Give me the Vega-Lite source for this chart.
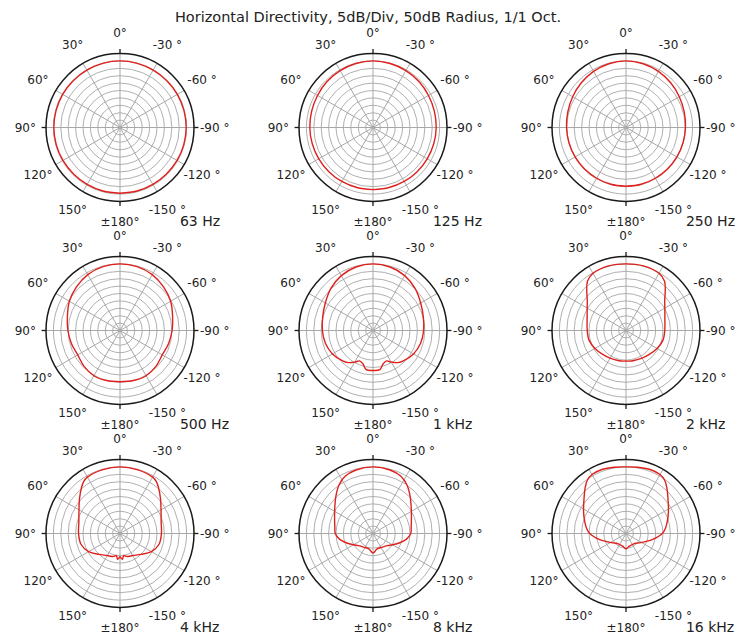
{
"$schema": "https://vega.github.io/schema/vega-lite/v6.json",
"background": "white",
"padding": {"left": 0, "right": 0, "top": 9, "bottom": 0},
"bounds": "flush",
"title": {"text": "Horizontal Directivity, 5dB/Div, 50dB Radius, 1/1 Oct.", "font": "DejaVu Sans", "fontSize": 14.5, "fontWeight": "normal", "color": "#222", "anchor": "middle", "offset": 1},
"config": {"view": {"stroke": null}, "axis": {"disable": true}},
"datasets": {
"rings": [{"L":5},{"L":10},{"L":15},{"L":20},{"L":25},{"L":30},{"L":35},{"L":40},{"L":45}],
"outer": [{"L":50}],
"spokes": [{"a":0},{"a":30},{"a":60},{"a":90},{"a":120},{"a":150}],
"ticks": [{"a":0},{"a":90},{"a":180},{"a":-90}],
"labels": [{"a":0,"t":"0°"},{"a":30,"t":"30°"},{"a":60,"t":"60°"},{"a":90,"t":"90°"},{"a":120,"t":"120°"},{"a":150,"t":"150°"},{"a":180,"t":"±180°"},{"a":-30,"t":"-30 °"},{"a":-60,"t":"-60 °"},{"a":-90,"t":"-90 °"},{"a":-120,"t":"-120 °"},{"a":-150,"t":"-150 °"}],
"curves": [
{"f":"63 Hz","a":-180,"L":44.4},{"f":"63 Hz","a":-165,"L":44.4},{"f":"63 Hz","a":-150,"L":44.4},{"f":"63 Hz","a":-135,"L":44.4},{"f":"63 Hz","a":-120,"L":44.5},{"f":"63 Hz","a":-105,"L":44.6},{"f":"63 Hz","a":-90,"L":44.7},{"f":"63 Hz","a":-75,"L":44.7},{"f":"63 Hz","a":-60,"L":44.7},{"f":"63 Hz","a":-45,"L":44.7},{"f":"63 Hz","a":-30,"L":44.8},{"f":"63 Hz","a":-15,"L":44.9},{"f":"63 Hz","a":0,"L":45},{"f":"63 Hz","a":15,"L":44.9},{"f":"63 Hz","a":30,"L":44.8},{"f":"63 Hz","a":45,"L":44.7},{"f":"63 Hz","a":60,"L":44.7},{"f":"63 Hz","a":75,"L":44.7},{"f":"63 Hz","a":90,"L":44.7},{"f":"63 Hz","a":105,"L":44.6},{"f":"63 Hz","a":120,"L":44.5},{"f":"63 Hz","a":135,"L":44.4},{"f":"63 Hz","a":150,"L":44.4},{"f":"63 Hz","a":165,"L":44.4},{"f":"63 Hz","a":180,"L":44.4},
{"f":"125 Hz","a":-180,"L":42},{"f":"125 Hz","a":-165,"L":42},{"f":"125 Hz","a":-150,"L":42.1},{"f":"125 Hz","a":-135,"L":42.2},{"f":"125 Hz","a":-120,"L":42.3},{"f":"125 Hz","a":-105,"L":42.5},{"f":"125 Hz","a":-90,"L":42.7},{"f":"125 Hz","a":-75,"L":42.9},{"f":"125 Hz","a":-60,"L":43.3},{"f":"125 Hz","a":-45,"L":43.9},{"f":"125 Hz","a":-30,"L":44.4},{"f":"125 Hz","a":-15,"L":44.8},{"f":"125 Hz","a":0,"L":45},{"f":"125 Hz","a":15,"L":44.8},{"f":"125 Hz","a":30,"L":44.4},{"f":"125 Hz","a":45,"L":43.9},{"f":"125 Hz","a":60,"L":43.3},{"f":"125 Hz","a":75,"L":42.9},{"f":"125 Hz","a":90,"L":42.7},{"f":"125 Hz","a":105,"L":42.5},{"f":"125 Hz","a":120,"L":42.3},{"f":"125 Hz","a":135,"L":42.2},{"f":"125 Hz","a":150,"L":42.1},{"f":"125 Hz","a":165,"L":42},{"f":"125 Hz","a":180,"L":42},
{"f":"250 Hz","a":-180,"L":39.7},{"f":"250 Hz","a":-165,"L":39.7},{"f":"250 Hz","a":-150,"L":39.6},{"f":"250 Hz","a":-135,"L":39.6},{"f":"250 Hz","a":-120,"L":39.7},{"f":"250 Hz","a":-105,"L":39.9},{"f":"250 Hz","a":-90,"L":40.2},{"f":"250 Hz","a":-75,"L":40.7},{"f":"250 Hz","a":-60,"L":41.6},{"f":"250 Hz","a":-45,"L":42.7},{"f":"250 Hz","a":-30,"L":43.8},{"f":"250 Hz","a":-15,"L":44.6},{"f":"250 Hz","a":0,"L":45},{"f":"250 Hz","a":15,"L":44.6},{"f":"250 Hz","a":30,"L":43.8},{"f":"250 Hz","a":45,"L":42.7},{"f":"250 Hz","a":60,"L":41.6},{"f":"250 Hz","a":75,"L":40.7},{"f":"250 Hz","a":90,"L":40.2},{"f":"250 Hz","a":105,"L":39.9},{"f":"250 Hz","a":120,"L":39.7},{"f":"250 Hz","a":135,"L":39.6},{"f":"250 Hz","a":150,"L":39.6},{"f":"250 Hz","a":165,"L":39.7},{"f":"250 Hz","a":180,"L":39.7},
{"f":"500 Hz","a":-180,"L":34.6},{"f":"500 Hz","a":-165,"L":35},{"f":"500 Hz","a":-150,"L":35.3},{"f":"500 Hz","a":-135,"L":34.3},{"f":"500 Hz","a":-120,"L":33},{"f":"500 Hz","a":-105,"L":34},{"f":"500 Hz","a":-90,"L":35.2},{"f":"500 Hz","a":-75,"L":36.8},{"f":"500 Hz","a":-60,"L":39.5},{"f":"500 Hz","a":-45,"L":41.6},{"f":"500 Hz","a":-30,"L":43.6},{"f":"500 Hz","a":-15,"L":44.7},{"f":"500 Hz","a":0,"L":45},{"f":"500 Hz","a":15,"L":44.7},{"f":"500 Hz","a":30,"L":43.6},{"f":"500 Hz","a":45,"L":41.6},{"f":"500 Hz","a":60,"L":39.5},{"f":"500 Hz","a":75,"L":36.8},{"f":"500 Hz","a":90,"L":35.2},{"f":"500 Hz","a":105,"L":34},{"f":"500 Hz","a":120,"L":33},{"f":"500 Hz","a":135,"L":34.3},{"f":"500 Hz","a":150,"L":35.3},{"f":"500 Hz","a":165,"L":35},{"f":"500 Hz","a":180,"L":34.6},
{"f":"1 kHz","a":-180,"L":27},{"f":"1 kHz","a":-170,"L":26.8},{"f":"1 kHz","a":-163,"L":23.5},{"f":"1 kHz","a":-156,"L":22.5},{"f":"1 kHz","a":-150,"L":24.7},{"f":"1 kHz","a":-142,"L":27.5},{"f":"1 kHz","a":-135,"L":29},{"f":"1 kHz","a":-120,"L":31.6},{"f":"1 kHz","a":-105,"L":33.3},{"f":"1 kHz","a":-90,"L":34.2},{"f":"1 kHz","a":-75,"L":35.2},{"f":"1 kHz","a":-60,"L":37.2},{"f":"1 kHz","a":-45,"L":40.2},{"f":"1 kHz","a":-30,"L":42.8},{"f":"1 kHz","a":-15,"L":44.4},{"f":"1 kHz","a":0,"L":45},{"f":"1 kHz","a":15,"L":44.4},{"f":"1 kHz","a":30,"L":42.8},{"f":"1 kHz","a":45,"L":40.2},{"f":"1 kHz","a":60,"L":37.2},{"f":"1 kHz","a":75,"L":35.2},{"f":"1 kHz","a":90,"L":34.2},{"f":"1 kHz","a":105,"L":33.3},{"f":"1 kHz","a":120,"L":31.6},{"f":"1 kHz","a":135,"L":29},{"f":"1 kHz","a":142,"L":27.5},{"f":"1 kHz","a":150,"L":24.7},{"f":"1 kHz","a":156,"L":22.5},{"f":"1 kHz","a":163,"L":23.5},{"f":"1 kHz","a":170,"L":26.8},{"f":"1 kHz","a":180,"L":27},
{"f":"2 kHz","a":-180,"L":20.6},{"f":"2 kHz","a":-175,"L":20.8},{"f":"2 kHz","a":-165,"L":21},{"f":"2 kHz","a":-150,"L":21.6},{"f":"2 kHz","a":-135,"L":22.6},{"f":"2 kHz","a":-120,"L":24.2},{"f":"2 kHz","a":-105,"L":25.8},{"f":"2 kHz","a":-90,"L":26.2},{"f":"2 kHz","a":-75,"L":27.2},{"f":"2 kHz","a":-60,"L":30.3},{"f":"2 kHz","a":-52,"L":33.2},{"f":"2 kHz","a":-45,"L":37.5},{"f":"2 kHz","a":-38,"L":42.3},{"f":"2 kHz","a":-30,"L":44.6},{"f":"2 kHz","a":-15,"L":45.2},{"f":"2 kHz","a":0,"L":45},{"f":"2 kHz","a":15,"L":45.2},{"f":"2 kHz","a":30,"L":44.6},{"f":"2 kHz","a":38,"L":42.3},{"f":"2 kHz","a":45,"L":37.5},{"f":"2 kHz","a":52,"L":33.2},{"f":"2 kHz","a":60,"L":30.3},{"f":"2 kHz","a":75,"L":27.2},{"f":"2 kHz","a":90,"L":26.2},{"f":"2 kHz","a":105,"L":25.8},{"f":"2 kHz","a":120,"L":24.2},{"f":"2 kHz","a":135,"L":22.6},{"f":"2 kHz","a":150,"L":21.6},{"f":"2 kHz","a":165,"L":21},{"f":"2 kHz","a":175,"L":20.8},{"f":"2 kHz","a":180,"L":20.6},
{"f":"4 kHz","a":-180,"L":15.5},{"f":"4 kHz","a":-175,"L":17.5},{"f":"4 kHz","a":-170,"L":15},{"f":"4 kHz","a":-165,"L":16},{"f":"4 kHz","a":-160,"L":16.5},{"f":"4 kHz","a":-150,"L":17.2},{"f":"4 kHz","a":-135,"L":20},{"f":"4 kHz","a":-120,"L":24.5},{"f":"4 kHz","a":-105,"L":27.4},{"f":"4 kHz","a":-90,"L":28},{"f":"4 kHz","a":-75,"L":28.8},{"f":"4 kHz","a":-60,"L":32},{"f":"4 kHz","a":-50,"L":35.8},{"f":"4 kHz","a":-40,"L":40.5},{"f":"4 kHz","a":-35,"L":42.8},{"f":"4 kHz","a":-30,"L":44},{"f":"4 kHz","a":-15,"L":44.7},{"f":"4 kHz","a":0,"L":45},{"f":"4 kHz","a":15,"L":44.7},{"f":"4 kHz","a":30,"L":44},{"f":"4 kHz","a":35,"L":42.8},{"f":"4 kHz","a":40,"L":40.5},{"f":"4 kHz","a":50,"L":35.8},{"f":"4 kHz","a":60,"L":32},{"f":"4 kHz","a":75,"L":28.8},{"f":"4 kHz","a":90,"L":28},{"f":"4 kHz","a":105,"L":27.4},{"f":"4 kHz","a":120,"L":24.5},{"f":"4 kHz","a":135,"L":20},{"f":"4 kHz","a":150,"L":17.2},{"f":"4 kHz","a":160,"L":16.5},{"f":"4 kHz","a":165,"L":16},{"f":"4 kHz","a":170,"L":15},{"f":"4 kHz","a":175,"L":17.5},{"f":"4 kHz","a":180,"L":15.5},
{"f":"8 kHz","a":-180,"L":13.3},{"f":"8 kHz","a":-174,"L":12.2},{"f":"8 kHz","a":-168,"L":11},{"f":"8 kHz","a":-160,"L":10.6},{"f":"8 kHz","a":-145,"L":11.2},{"f":"8 kHz","a":-130,"L":12.8},{"f":"8 kHz","a":-120,"L":15.2},{"f":"8 kHz","a":-110,"L":18.8},{"f":"8 kHz","a":-100,"L":22.8},{"f":"8 kHz","a":-90,"L":25.5},{"f":"8 kHz","a":-80,"L":26.2},{"f":"8 kHz","a":-68,"L":28},{"f":"8 kHz","a":-55,"L":31.5},{"f":"8 kHz","a":-45,"L":35.5},{"f":"8 kHz","a":-35,"L":40},{"f":"8 kHz","a":-26,"L":43},{"f":"8 kHz","a":-15,"L":44.4},{"f":"8 kHz","a":0,"L":45},{"f":"8 kHz","a":15,"L":44.4},{"f":"8 kHz","a":26,"L":43},{"f":"8 kHz","a":35,"L":40},{"f":"8 kHz","a":45,"L":35.5},{"f":"8 kHz","a":55,"L":31.5},{"f":"8 kHz","a":68,"L":28},{"f":"8 kHz","a":80,"L":26.2},{"f":"8 kHz","a":90,"L":25.5},{"f":"8 kHz","a":100,"L":22.8},{"f":"8 kHz","a":110,"L":18.8},{"f":"8 kHz","a":120,"L":15.2},{"f":"8 kHz","a":130,"L":12.8},{"f":"8 kHz","a":145,"L":11.2},{"f":"8 kHz","a":160,"L":10.6},{"f":"8 kHz","a":168,"L":11},{"f":"8 kHz","a":174,"L":12.2},{"f":"8 kHz","a":180,"L":13.3},
{"f":"16 kHz","a":-180,"L":10.5},{"f":"16 kHz","a":-172,"L":9.5},{"f":"16 kHz","a":-165,"L":8.8},{"f":"16 kHz","a":-150,"L":8.6},{"f":"16 kHz","a":-136,"L":9.2},{"f":"16 kHz","a":-125,"L":11},{"f":"16 kHz","a":-115,"L":13.5},{"f":"16 kHz","a":-103,"L":18.2},{"f":"16 kHz","a":-90,"L":24.5},{"f":"16 kHz","a":-82,"L":27},{"f":"16 kHz","a":-72,"L":29.5},{"f":"16 kHz","a":-62,"L":32.5},{"f":"16 kHz","a":-50,"L":37},{"f":"16 kHz","a":-42,"L":41.3},{"f":"16 kHz","a":-36,"L":44.5},{"f":"16 kHz","a":-30,"L":46},{"f":"16 kHz","a":-20,"L":46.2},{"f":"16 kHz","a":-10,"L":45.5},{"f":"16 kHz","a":0,"L":45},{"f":"16 kHz","a":10,"L":45.5},{"f":"16 kHz","a":20,"L":46.2},{"f":"16 kHz","a":30,"L":46},{"f":"16 kHz","a":36,"L":44.5},{"f":"16 kHz","a":42,"L":41.3},{"f":"16 kHz","a":50,"L":37},{"f":"16 kHz","a":62,"L":32.5},{"f":"16 kHz","a":72,"L":29.5},{"f":"16 kHz","a":82,"L":27},{"f":"16 kHz","a":90,"L":24.5},{"f":"16 kHz","a":103,"L":18.2},{"f":"16 kHz","a":115,"L":13.5},{"f":"16 kHz","a":125,"L":11},{"f":"16 kHz","a":136,"L":9.2},{"f":"16 kHz","a":150,"L":8.6},{"f":"16 kHz","a":165,"L":8.8},{"f":"16 kHz","a":172,"L":9.5},{"f":"16 kHz","a":180,"L":10.5}
]
},
"columns": 3,
"spacing": {"row": 0, "column": 23},
"concat": [
{"width":230,"height":203,"layer":[
{"data":{"name":"rings"},"mark":{"type":"arc","theta":0,"theta2":6.2832,"filled":false,"stroke":"#b0b0b0","strokeWidth":1},"encoding":{"x":{"datum":0,"type":"quantitative","scale":{"domain":[-81.08,74.32],"nice":false,"zero":false}},"y":{"datum":0,"type":"quantitative","scale":{"domain":[-68.58,68.58],"nice":false,"zero":false}},"radius":{"field":"L","type":"quantitative","stack":null,"scale":{"type":"linear","domain":[0,50],"range":[0,74],"zero":true}}}},
{"data":{"name":"spokes"},"transform":[{"calculate":"-50*sin(datum.a*PI/180)","as":"sx"},{"calculate":"50*cos(datum.a*PI/180)","as":"sy"},{"calculate":"50*sin(datum.a*PI/180)","as":"ex"},{"calculate":"-50*cos(datum.a*PI/180)","as":"ey"}],"mark":{"type":"rule","color":"#a8a8a8","strokeWidth":1},"encoding":{"x":{"field":"sx","type":"quantitative","scale":{"domain":[-81.08,74.32],"nice":false,"zero":false}},"y":{"field":"sy","type":"quantitative","scale":{"domain":[-68.58,68.58],"nice":false,"zero":false}},"x2":{"field":"ex"},"y2":{"field":"ey"}}},
{"data":{"name":"outer"},"mark":{"type":"arc","theta":0,"theta2":6.2832,"filled":false,"stroke":"#1a1a1a","strokeWidth":1.5},"encoding":{"x":{"datum":0,"type":"quantitative","scale":{"domain":[-81.08,74.32],"nice":false,"zero":false}},"y":{"datum":0,"type":"quantitative","scale":{"domain":[-68.58,68.58],"nice":false,"zero":false}},"radius":{"field":"L","type":"quantitative","stack":null,"scale":{"type":"linear","domain":[0,50],"range":[0,74],"zero":true}}}},
{"data":{"name":"ticks"},"transform":[{"calculate":"-50*sin(datum.a*PI/180)","as":"x1"},{"calculate":"50*cos(datum.a*PI/180)","as":"y1"},{"calculate":"-53*sin(datum.a*PI/180)","as":"x2"},{"calculate":"53*cos(datum.a*PI/180)","as":"y2"}],"mark":{"type":"rule","color":"#1a1a1a","strokeWidth":1.3},"encoding":{"x":{"field":"x1","type":"quantitative","scale":{"domain":[-81.08,74.32],"nice":false,"zero":false}},"y":{"field":"y1","type":"quantitative","scale":{"domain":[-68.58,68.58],"nice":false,"zero":false}},"x2":{"field":"x2"},"y2":{"field":"y2"}}},
{"data":{"name":"curves"},"transform":[{"filter":"datum.f=='63 Hz'"},{"calculate":"-datum.L*sin(datum.a*PI/180)","as":"px"},{"calculate":"datum.L*cos(datum.a*PI/180)","as":"py"}],"mark":{"type":"line","color":"#e0201c","strokeWidth":1.4,"interpolate":"catmull-rom"},"encoding":{"x":{"field":"px","type":"quantitative","scale":{"domain":[-81.08,74.32],"nice":false,"zero":false}},"y":{"field":"py","type":"quantitative","scale":{"domain":[-68.58,68.58],"nice":false,"zero":false}},"order":{"field":"a","type":"quantitative"}}},
{"data":{"name":"labels"},"transform":[{"calculate":"-64*sin(datum.a*PI/180)","as":"lx"},{"calculate":"64*cos(datum.a*PI/180)","as":"ly"}],"mark":{"type":"text","font":"DejaVu Sans","fontSize":12,"color":"#222"},"encoding":{"x":{"field":"lx","type":"quantitative","scale":{"domain":[-81.08,74.32],"nice":false,"zero":false}},"y":{"field":"ly","type":"quantitative","scale":{"domain":[-68.58,68.58],"nice":false,"zero":false}},"text":{"field":"t"}}},
{"data":{"name":"curves"},"transform":[{"filter":"datum.f=='63 Hz' && datum.a==0"}],"mark":{"type":"text","align":"left","font":"DejaVu Sans","fontSize":14,"color":"#222"},"encoding":{"x":{"datum":40.5,"type":"quantitative","scale":{"domain":[-81.08,74.32],"nice":false,"zero":false}},"y":{"datum":-64,"type":"quantitative","scale":{"domain":[-68.58,68.58],"nice":false,"zero":false}},"text":{"field":"f"}}}
]},
{"width":230,"height":203,"layer":[
{"data":{"name":"rings"},"mark":{"type":"arc","theta":0,"theta2":6.2832,"filled":false,"stroke":"#b0b0b0","strokeWidth":1},"encoding":{"x":{"datum":0,"type":"quantitative","scale":{"domain":[-81.08,74.32],"nice":false,"zero":false}},"y":{"datum":0,"type":"quantitative","scale":{"domain":[-68.58,68.58],"nice":false,"zero":false}},"radius":{"field":"L","type":"quantitative","stack":null,"scale":{"type":"linear","domain":[0,50],"range":[0,74],"zero":true}}}},
{"data":{"name":"spokes"},"transform":[{"calculate":"-50*sin(datum.a*PI/180)","as":"sx"},{"calculate":"50*cos(datum.a*PI/180)","as":"sy"},{"calculate":"50*sin(datum.a*PI/180)","as":"ex"},{"calculate":"-50*cos(datum.a*PI/180)","as":"ey"}],"mark":{"type":"rule","color":"#a8a8a8","strokeWidth":1},"encoding":{"x":{"field":"sx","type":"quantitative","scale":{"domain":[-81.08,74.32],"nice":false,"zero":false}},"y":{"field":"sy","type":"quantitative","scale":{"domain":[-68.58,68.58],"nice":false,"zero":false}},"x2":{"field":"ex"},"y2":{"field":"ey"}}},
{"data":{"name":"outer"},"mark":{"type":"arc","theta":0,"theta2":6.2832,"filled":false,"stroke":"#1a1a1a","strokeWidth":1.5},"encoding":{"x":{"datum":0,"type":"quantitative","scale":{"domain":[-81.08,74.32],"nice":false,"zero":false}},"y":{"datum":0,"type":"quantitative","scale":{"domain":[-68.58,68.58],"nice":false,"zero":false}},"radius":{"field":"L","type":"quantitative","stack":null,"scale":{"type":"linear","domain":[0,50],"range":[0,74],"zero":true}}}},
{"data":{"name":"ticks"},"transform":[{"calculate":"-50*sin(datum.a*PI/180)","as":"x1"},{"calculate":"50*cos(datum.a*PI/180)","as":"y1"},{"calculate":"-53*sin(datum.a*PI/180)","as":"x2"},{"calculate":"53*cos(datum.a*PI/180)","as":"y2"}],"mark":{"type":"rule","color":"#1a1a1a","strokeWidth":1.3},"encoding":{"x":{"field":"x1","type":"quantitative","scale":{"domain":[-81.08,74.32],"nice":false,"zero":false}},"y":{"field":"y1","type":"quantitative","scale":{"domain":[-68.58,68.58],"nice":false,"zero":false}},"x2":{"field":"x2"},"y2":{"field":"y2"}}},
{"data":{"name":"curves"},"transform":[{"filter":"datum.f=='125 Hz'"},{"calculate":"-datum.L*sin(datum.a*PI/180)","as":"px"},{"calculate":"datum.L*cos(datum.a*PI/180)","as":"py"}],"mark":{"type":"line","color":"#e0201c","strokeWidth":1.4,"interpolate":"catmull-rom"},"encoding":{"x":{"field":"px","type":"quantitative","scale":{"domain":[-81.08,74.32],"nice":false,"zero":false}},"y":{"field":"py","type":"quantitative","scale":{"domain":[-68.58,68.58],"nice":false,"zero":false}},"order":{"field":"a","type":"quantitative"}}},
{"data":{"name":"labels"},"transform":[{"calculate":"-64*sin(datum.a*PI/180)","as":"lx"},{"calculate":"64*cos(datum.a*PI/180)","as":"ly"}],"mark":{"type":"text","font":"DejaVu Sans","fontSize":12,"color":"#222"},"encoding":{"x":{"field":"lx","type":"quantitative","scale":{"domain":[-81.08,74.32],"nice":false,"zero":false}},"y":{"field":"ly","type":"quantitative","scale":{"domain":[-68.58,68.58],"nice":false,"zero":false}},"text":{"field":"t"}}},
{"data":{"name":"curves"},"transform":[{"filter":"datum.f=='125 Hz' && datum.a==0"}],"mark":{"type":"text","align":"left","font":"DejaVu Sans","fontSize":14,"color":"#222"},"encoding":{"x":{"datum":40.5,"type":"quantitative","scale":{"domain":[-81.08,74.32],"nice":false,"zero":false}},"y":{"datum":-64,"type":"quantitative","scale":{"domain":[-68.58,68.58],"nice":false,"zero":false}},"text":{"field":"f"}}}
]},
{"width":230,"height":203,"layer":[
{"data":{"name":"rings"},"mark":{"type":"arc","theta":0,"theta2":6.2832,"filled":false,"stroke":"#b0b0b0","strokeWidth":1},"encoding":{"x":{"datum":0,"type":"quantitative","scale":{"domain":[-81.08,74.32],"nice":false,"zero":false}},"y":{"datum":0,"type":"quantitative","scale":{"domain":[-68.58,68.58],"nice":false,"zero":false}},"radius":{"field":"L","type":"quantitative","stack":null,"scale":{"type":"linear","domain":[0,50],"range":[0,74],"zero":true}}}},
{"data":{"name":"spokes"},"transform":[{"calculate":"-50*sin(datum.a*PI/180)","as":"sx"},{"calculate":"50*cos(datum.a*PI/180)","as":"sy"},{"calculate":"50*sin(datum.a*PI/180)","as":"ex"},{"calculate":"-50*cos(datum.a*PI/180)","as":"ey"}],"mark":{"type":"rule","color":"#a8a8a8","strokeWidth":1},"encoding":{"x":{"field":"sx","type":"quantitative","scale":{"domain":[-81.08,74.32],"nice":false,"zero":false}},"y":{"field":"sy","type":"quantitative","scale":{"domain":[-68.58,68.58],"nice":false,"zero":false}},"x2":{"field":"ex"},"y2":{"field":"ey"}}},
{"data":{"name":"outer"},"mark":{"type":"arc","theta":0,"theta2":6.2832,"filled":false,"stroke":"#1a1a1a","strokeWidth":1.5},"encoding":{"x":{"datum":0,"type":"quantitative","scale":{"domain":[-81.08,74.32],"nice":false,"zero":false}},"y":{"datum":0,"type":"quantitative","scale":{"domain":[-68.58,68.58],"nice":false,"zero":false}},"radius":{"field":"L","type":"quantitative","stack":null,"scale":{"type":"linear","domain":[0,50],"range":[0,74],"zero":true}}}},
{"data":{"name":"ticks"},"transform":[{"calculate":"-50*sin(datum.a*PI/180)","as":"x1"},{"calculate":"50*cos(datum.a*PI/180)","as":"y1"},{"calculate":"-53*sin(datum.a*PI/180)","as":"x2"},{"calculate":"53*cos(datum.a*PI/180)","as":"y2"}],"mark":{"type":"rule","color":"#1a1a1a","strokeWidth":1.3},"encoding":{"x":{"field":"x1","type":"quantitative","scale":{"domain":[-81.08,74.32],"nice":false,"zero":false}},"y":{"field":"y1","type":"quantitative","scale":{"domain":[-68.58,68.58],"nice":false,"zero":false}},"x2":{"field":"x2"},"y2":{"field":"y2"}}},
{"data":{"name":"curves"},"transform":[{"filter":"datum.f=='250 Hz'"},{"calculate":"-datum.L*sin(datum.a*PI/180)","as":"px"},{"calculate":"datum.L*cos(datum.a*PI/180)","as":"py"}],"mark":{"type":"line","color":"#e0201c","strokeWidth":1.4,"interpolate":"catmull-rom"},"encoding":{"x":{"field":"px","type":"quantitative","scale":{"domain":[-81.08,74.32],"nice":false,"zero":false}},"y":{"field":"py","type":"quantitative","scale":{"domain":[-68.58,68.58],"nice":false,"zero":false}},"order":{"field":"a","type":"quantitative"}}},
{"data":{"name":"labels"},"transform":[{"calculate":"-64*sin(datum.a*PI/180)","as":"lx"},{"calculate":"64*cos(datum.a*PI/180)","as":"ly"}],"mark":{"type":"text","font":"DejaVu Sans","fontSize":12,"color":"#222"},"encoding":{"x":{"field":"lx","type":"quantitative","scale":{"domain":[-81.08,74.32],"nice":false,"zero":false}},"y":{"field":"ly","type":"quantitative","scale":{"domain":[-68.58,68.58],"nice":false,"zero":false}},"text":{"field":"t"}}},
{"data":{"name":"curves"},"transform":[{"filter":"datum.f=='250 Hz' && datum.a==0"}],"mark":{"type":"text","align":"left","font":"DejaVu Sans","fontSize":14,"color":"#222"},"encoding":{"x":{"datum":40.5,"type":"quantitative","scale":{"domain":[-81.08,74.32],"nice":false,"zero":false}},"y":{"datum":-64,"type":"quantitative","scale":{"domain":[-68.58,68.58],"nice":false,"zero":false}},"text":{"field":"f"}}}
]},
{"width":230,"height":203,"layer":[
{"data":{"name":"rings"},"mark":{"type":"arc","theta":0,"theta2":6.2832,"filled":false,"stroke":"#b0b0b0","strokeWidth":1},"encoding":{"x":{"datum":0,"type":"quantitative","scale":{"domain":[-81.08,74.32],"nice":false,"zero":false}},"y":{"datum":0,"type":"quantitative","scale":{"domain":[-68.58,68.58],"nice":false,"zero":false}},"radius":{"field":"L","type":"quantitative","stack":null,"scale":{"type":"linear","domain":[0,50],"range":[0,74],"zero":true}}}},
{"data":{"name":"spokes"},"transform":[{"calculate":"-50*sin(datum.a*PI/180)","as":"sx"},{"calculate":"50*cos(datum.a*PI/180)","as":"sy"},{"calculate":"50*sin(datum.a*PI/180)","as":"ex"},{"calculate":"-50*cos(datum.a*PI/180)","as":"ey"}],"mark":{"type":"rule","color":"#a8a8a8","strokeWidth":1},"encoding":{"x":{"field":"sx","type":"quantitative","scale":{"domain":[-81.08,74.32],"nice":false,"zero":false}},"y":{"field":"sy","type":"quantitative","scale":{"domain":[-68.58,68.58],"nice":false,"zero":false}},"x2":{"field":"ex"},"y2":{"field":"ey"}}},
{"data":{"name":"outer"},"mark":{"type":"arc","theta":0,"theta2":6.2832,"filled":false,"stroke":"#1a1a1a","strokeWidth":1.5},"encoding":{"x":{"datum":0,"type":"quantitative","scale":{"domain":[-81.08,74.32],"nice":false,"zero":false}},"y":{"datum":0,"type":"quantitative","scale":{"domain":[-68.58,68.58],"nice":false,"zero":false}},"radius":{"field":"L","type":"quantitative","stack":null,"scale":{"type":"linear","domain":[0,50],"range":[0,74],"zero":true}}}},
{"data":{"name":"ticks"},"transform":[{"calculate":"-50*sin(datum.a*PI/180)","as":"x1"},{"calculate":"50*cos(datum.a*PI/180)","as":"y1"},{"calculate":"-53*sin(datum.a*PI/180)","as":"x2"},{"calculate":"53*cos(datum.a*PI/180)","as":"y2"}],"mark":{"type":"rule","color":"#1a1a1a","strokeWidth":1.3},"encoding":{"x":{"field":"x1","type":"quantitative","scale":{"domain":[-81.08,74.32],"nice":false,"zero":false}},"y":{"field":"y1","type":"quantitative","scale":{"domain":[-68.58,68.58],"nice":false,"zero":false}},"x2":{"field":"x2"},"y2":{"field":"y2"}}},
{"data":{"name":"curves"},"transform":[{"filter":"datum.f=='500 Hz'"},{"calculate":"-datum.L*sin(datum.a*PI/180)","as":"px"},{"calculate":"datum.L*cos(datum.a*PI/180)","as":"py"}],"mark":{"type":"line","color":"#e0201c","strokeWidth":1.4,"interpolate":"catmull-rom"},"encoding":{"x":{"field":"px","type":"quantitative","scale":{"domain":[-81.08,74.32],"nice":false,"zero":false}},"y":{"field":"py","type":"quantitative","scale":{"domain":[-68.58,68.58],"nice":false,"zero":false}},"order":{"field":"a","type":"quantitative"}}},
{"data":{"name":"labels"},"transform":[{"calculate":"-64*sin(datum.a*PI/180)","as":"lx"},{"calculate":"64*cos(datum.a*PI/180)","as":"ly"}],"mark":{"type":"text","font":"DejaVu Sans","fontSize":12,"color":"#222"},"encoding":{"x":{"field":"lx","type":"quantitative","scale":{"domain":[-81.08,74.32],"nice":false,"zero":false}},"y":{"field":"ly","type":"quantitative","scale":{"domain":[-68.58,68.58],"nice":false,"zero":false}},"text":{"field":"t"}}},
{"data":{"name":"curves"},"transform":[{"filter":"datum.f=='500 Hz' && datum.a==0"}],"mark":{"type":"text","align":"left","font":"DejaVu Sans","fontSize":14,"color":"#222"},"encoding":{"x":{"datum":40.5,"type":"quantitative","scale":{"domain":[-81.08,74.32],"nice":false,"zero":false}},"y":{"datum":-64,"type":"quantitative","scale":{"domain":[-68.58,68.58],"nice":false,"zero":false}},"text":{"field":"f"}}}
]},
{"width":230,"height":203,"layer":[
{"data":{"name":"rings"},"mark":{"type":"arc","theta":0,"theta2":6.2832,"filled":false,"stroke":"#b0b0b0","strokeWidth":1},"encoding":{"x":{"datum":0,"type":"quantitative","scale":{"domain":[-81.08,74.32],"nice":false,"zero":false}},"y":{"datum":0,"type":"quantitative","scale":{"domain":[-68.58,68.58],"nice":false,"zero":false}},"radius":{"field":"L","type":"quantitative","stack":null,"scale":{"type":"linear","domain":[0,50],"range":[0,74],"zero":true}}}},
{"data":{"name":"spokes"},"transform":[{"calculate":"-50*sin(datum.a*PI/180)","as":"sx"},{"calculate":"50*cos(datum.a*PI/180)","as":"sy"},{"calculate":"50*sin(datum.a*PI/180)","as":"ex"},{"calculate":"-50*cos(datum.a*PI/180)","as":"ey"}],"mark":{"type":"rule","color":"#a8a8a8","strokeWidth":1},"encoding":{"x":{"field":"sx","type":"quantitative","scale":{"domain":[-81.08,74.32],"nice":false,"zero":false}},"y":{"field":"sy","type":"quantitative","scale":{"domain":[-68.58,68.58],"nice":false,"zero":false}},"x2":{"field":"ex"},"y2":{"field":"ey"}}},
{"data":{"name":"outer"},"mark":{"type":"arc","theta":0,"theta2":6.2832,"filled":false,"stroke":"#1a1a1a","strokeWidth":1.5},"encoding":{"x":{"datum":0,"type":"quantitative","scale":{"domain":[-81.08,74.32],"nice":false,"zero":false}},"y":{"datum":0,"type":"quantitative","scale":{"domain":[-68.58,68.58],"nice":false,"zero":false}},"radius":{"field":"L","type":"quantitative","stack":null,"scale":{"type":"linear","domain":[0,50],"range":[0,74],"zero":true}}}},
{"data":{"name":"ticks"},"transform":[{"calculate":"-50*sin(datum.a*PI/180)","as":"x1"},{"calculate":"50*cos(datum.a*PI/180)","as":"y1"},{"calculate":"-53*sin(datum.a*PI/180)","as":"x2"},{"calculate":"53*cos(datum.a*PI/180)","as":"y2"}],"mark":{"type":"rule","color":"#1a1a1a","strokeWidth":1.3},"encoding":{"x":{"field":"x1","type":"quantitative","scale":{"domain":[-81.08,74.32],"nice":false,"zero":false}},"y":{"field":"y1","type":"quantitative","scale":{"domain":[-68.58,68.58],"nice":false,"zero":false}},"x2":{"field":"x2"},"y2":{"field":"y2"}}},
{"data":{"name":"curves"},"transform":[{"filter":"datum.f=='1 kHz'"},{"calculate":"-datum.L*sin(datum.a*PI/180)","as":"px"},{"calculate":"datum.L*cos(datum.a*PI/180)","as":"py"}],"mark":{"type":"line","color":"#e0201c","strokeWidth":1.4,"interpolate":"catmull-rom"},"encoding":{"x":{"field":"px","type":"quantitative","scale":{"domain":[-81.08,74.32],"nice":false,"zero":false}},"y":{"field":"py","type":"quantitative","scale":{"domain":[-68.58,68.58],"nice":false,"zero":false}},"order":{"field":"a","type":"quantitative"}}},
{"data":{"name":"labels"},"transform":[{"calculate":"-64*sin(datum.a*PI/180)","as":"lx"},{"calculate":"64*cos(datum.a*PI/180)","as":"ly"}],"mark":{"type":"text","font":"DejaVu Sans","fontSize":12,"color":"#222"},"encoding":{"x":{"field":"lx","type":"quantitative","scale":{"domain":[-81.08,74.32],"nice":false,"zero":false}},"y":{"field":"ly","type":"quantitative","scale":{"domain":[-68.58,68.58],"nice":false,"zero":false}},"text":{"field":"t"}}},
{"data":{"name":"curves"},"transform":[{"filter":"datum.f=='1 kHz' && datum.a==0"}],"mark":{"type":"text","align":"left","font":"DejaVu Sans","fontSize":14,"color":"#222"},"encoding":{"x":{"datum":40.5,"type":"quantitative","scale":{"domain":[-81.08,74.32],"nice":false,"zero":false}},"y":{"datum":-64,"type":"quantitative","scale":{"domain":[-68.58,68.58],"nice":false,"zero":false}},"text":{"field":"f"}}}
]},
{"width":230,"height":203,"layer":[
{"data":{"name":"rings"},"mark":{"type":"arc","theta":0,"theta2":6.2832,"filled":false,"stroke":"#b0b0b0","strokeWidth":1},"encoding":{"x":{"datum":0,"type":"quantitative","scale":{"domain":[-81.08,74.32],"nice":false,"zero":false}},"y":{"datum":0,"type":"quantitative","scale":{"domain":[-68.58,68.58],"nice":false,"zero":false}},"radius":{"field":"L","type":"quantitative","stack":null,"scale":{"type":"linear","domain":[0,50],"range":[0,74],"zero":true}}}},
{"data":{"name":"spokes"},"transform":[{"calculate":"-50*sin(datum.a*PI/180)","as":"sx"},{"calculate":"50*cos(datum.a*PI/180)","as":"sy"},{"calculate":"50*sin(datum.a*PI/180)","as":"ex"},{"calculate":"-50*cos(datum.a*PI/180)","as":"ey"}],"mark":{"type":"rule","color":"#a8a8a8","strokeWidth":1},"encoding":{"x":{"field":"sx","type":"quantitative","scale":{"domain":[-81.08,74.32],"nice":false,"zero":false}},"y":{"field":"sy","type":"quantitative","scale":{"domain":[-68.58,68.58],"nice":false,"zero":false}},"x2":{"field":"ex"},"y2":{"field":"ey"}}},
{"data":{"name":"outer"},"mark":{"type":"arc","theta":0,"theta2":6.2832,"filled":false,"stroke":"#1a1a1a","strokeWidth":1.5},"encoding":{"x":{"datum":0,"type":"quantitative","scale":{"domain":[-81.08,74.32],"nice":false,"zero":false}},"y":{"datum":0,"type":"quantitative","scale":{"domain":[-68.58,68.58],"nice":false,"zero":false}},"radius":{"field":"L","type":"quantitative","stack":null,"scale":{"type":"linear","domain":[0,50],"range":[0,74],"zero":true}}}},
{"data":{"name":"ticks"},"transform":[{"calculate":"-50*sin(datum.a*PI/180)","as":"x1"},{"calculate":"50*cos(datum.a*PI/180)","as":"y1"},{"calculate":"-53*sin(datum.a*PI/180)","as":"x2"},{"calculate":"53*cos(datum.a*PI/180)","as":"y2"}],"mark":{"type":"rule","color":"#1a1a1a","strokeWidth":1.3},"encoding":{"x":{"field":"x1","type":"quantitative","scale":{"domain":[-81.08,74.32],"nice":false,"zero":false}},"y":{"field":"y1","type":"quantitative","scale":{"domain":[-68.58,68.58],"nice":false,"zero":false}},"x2":{"field":"x2"},"y2":{"field":"y2"}}},
{"data":{"name":"curves"},"transform":[{"filter":"datum.f=='2 kHz'"},{"calculate":"-datum.L*sin(datum.a*PI/180)","as":"px"},{"calculate":"datum.L*cos(datum.a*PI/180)","as":"py"}],"mark":{"type":"line","color":"#e0201c","strokeWidth":1.4,"interpolate":"catmull-rom"},"encoding":{"x":{"field":"px","type":"quantitative","scale":{"domain":[-81.08,74.32],"nice":false,"zero":false}},"y":{"field":"py","type":"quantitative","scale":{"domain":[-68.58,68.58],"nice":false,"zero":false}},"order":{"field":"a","type":"quantitative"}}},
{"data":{"name":"labels"},"transform":[{"calculate":"-64*sin(datum.a*PI/180)","as":"lx"},{"calculate":"64*cos(datum.a*PI/180)","as":"ly"}],"mark":{"type":"text","font":"DejaVu Sans","fontSize":12,"color":"#222"},"encoding":{"x":{"field":"lx","type":"quantitative","scale":{"domain":[-81.08,74.32],"nice":false,"zero":false}},"y":{"field":"ly","type":"quantitative","scale":{"domain":[-68.58,68.58],"nice":false,"zero":false}},"text":{"field":"t"}}},
{"data":{"name":"curves"},"transform":[{"filter":"datum.f=='2 kHz' && datum.a==0"}],"mark":{"type":"text","align":"left","font":"DejaVu Sans","fontSize":14,"color":"#222"},"encoding":{"x":{"datum":40.5,"type":"quantitative","scale":{"domain":[-81.08,74.32],"nice":false,"zero":false}},"y":{"datum":-64,"type":"quantitative","scale":{"domain":[-68.58,68.58],"nice":false,"zero":false}},"text":{"field":"f"}}}
]},
{"width":230,"height":203,"layer":[
{"data":{"name":"rings"},"mark":{"type":"arc","theta":0,"theta2":6.2832,"filled":false,"stroke":"#b0b0b0","strokeWidth":1},"encoding":{"x":{"datum":0,"type":"quantitative","scale":{"domain":[-81.08,74.32],"nice":false,"zero":false}},"y":{"datum":0,"type":"quantitative","scale":{"domain":[-68.58,68.58],"nice":false,"zero":false}},"radius":{"field":"L","type":"quantitative","stack":null,"scale":{"type":"linear","domain":[0,50],"range":[0,74],"zero":true}}}},
{"data":{"name":"spokes"},"transform":[{"calculate":"-50*sin(datum.a*PI/180)","as":"sx"},{"calculate":"50*cos(datum.a*PI/180)","as":"sy"},{"calculate":"50*sin(datum.a*PI/180)","as":"ex"},{"calculate":"-50*cos(datum.a*PI/180)","as":"ey"}],"mark":{"type":"rule","color":"#a8a8a8","strokeWidth":1},"encoding":{"x":{"field":"sx","type":"quantitative","scale":{"domain":[-81.08,74.32],"nice":false,"zero":false}},"y":{"field":"sy","type":"quantitative","scale":{"domain":[-68.58,68.58],"nice":false,"zero":false}},"x2":{"field":"ex"},"y2":{"field":"ey"}}},
{"data":{"name":"outer"},"mark":{"type":"arc","theta":0,"theta2":6.2832,"filled":false,"stroke":"#1a1a1a","strokeWidth":1.5},"encoding":{"x":{"datum":0,"type":"quantitative","scale":{"domain":[-81.08,74.32],"nice":false,"zero":false}},"y":{"datum":0,"type":"quantitative","scale":{"domain":[-68.58,68.58],"nice":false,"zero":false}},"radius":{"field":"L","type":"quantitative","stack":null,"scale":{"type":"linear","domain":[0,50],"range":[0,74],"zero":true}}}},
{"data":{"name":"ticks"},"transform":[{"calculate":"-50*sin(datum.a*PI/180)","as":"x1"},{"calculate":"50*cos(datum.a*PI/180)","as":"y1"},{"calculate":"-53*sin(datum.a*PI/180)","as":"x2"},{"calculate":"53*cos(datum.a*PI/180)","as":"y2"}],"mark":{"type":"rule","color":"#1a1a1a","strokeWidth":1.3},"encoding":{"x":{"field":"x1","type":"quantitative","scale":{"domain":[-81.08,74.32],"nice":false,"zero":false}},"y":{"field":"y1","type":"quantitative","scale":{"domain":[-68.58,68.58],"nice":false,"zero":false}},"x2":{"field":"x2"},"y2":{"field":"y2"}}},
{"data":{"name":"curves"},"transform":[{"filter":"datum.f=='4 kHz'"},{"calculate":"-datum.L*sin(datum.a*PI/180)","as":"px"},{"calculate":"datum.L*cos(datum.a*PI/180)","as":"py"}],"mark":{"type":"line","color":"#e0201c","strokeWidth":1.4,"interpolate":"catmull-rom"},"encoding":{"x":{"field":"px","type":"quantitative","scale":{"domain":[-81.08,74.32],"nice":false,"zero":false}},"y":{"field":"py","type":"quantitative","scale":{"domain":[-68.58,68.58],"nice":false,"zero":false}},"order":{"field":"a","type":"quantitative"}}},
{"data":{"name":"labels"},"transform":[{"calculate":"-64*sin(datum.a*PI/180)","as":"lx"},{"calculate":"64*cos(datum.a*PI/180)","as":"ly"}],"mark":{"type":"text","font":"DejaVu Sans","fontSize":12,"color":"#222"},"encoding":{"x":{"field":"lx","type":"quantitative","scale":{"domain":[-81.08,74.32],"nice":false,"zero":false}},"y":{"field":"ly","type":"quantitative","scale":{"domain":[-68.58,68.58],"nice":false,"zero":false}},"text":{"field":"t"}}},
{"data":{"name":"curves"},"transform":[{"filter":"datum.f=='4 kHz' && datum.a==0"}],"mark":{"type":"text","align":"left","font":"DejaVu Sans","fontSize":14,"color":"#222"},"encoding":{"x":{"datum":40.5,"type":"quantitative","scale":{"domain":[-81.08,74.32],"nice":false,"zero":false}},"y":{"datum":-64,"type":"quantitative","scale":{"domain":[-68.58,68.58],"nice":false,"zero":false}},"text":{"field":"f"}}}
]},
{"width":230,"height":203,"layer":[
{"data":{"name":"rings"},"mark":{"type":"arc","theta":0,"theta2":6.2832,"filled":false,"stroke":"#b0b0b0","strokeWidth":1},"encoding":{"x":{"datum":0,"type":"quantitative","scale":{"domain":[-81.08,74.32],"nice":false,"zero":false}},"y":{"datum":0,"type":"quantitative","scale":{"domain":[-68.58,68.58],"nice":false,"zero":false}},"radius":{"field":"L","type":"quantitative","stack":null,"scale":{"type":"linear","domain":[0,50],"range":[0,74],"zero":true}}}},
{"data":{"name":"spokes"},"transform":[{"calculate":"-50*sin(datum.a*PI/180)","as":"sx"},{"calculate":"50*cos(datum.a*PI/180)","as":"sy"},{"calculate":"50*sin(datum.a*PI/180)","as":"ex"},{"calculate":"-50*cos(datum.a*PI/180)","as":"ey"}],"mark":{"type":"rule","color":"#a8a8a8","strokeWidth":1},"encoding":{"x":{"field":"sx","type":"quantitative","scale":{"domain":[-81.08,74.32],"nice":false,"zero":false}},"y":{"field":"sy","type":"quantitative","scale":{"domain":[-68.58,68.58],"nice":false,"zero":false}},"x2":{"field":"ex"},"y2":{"field":"ey"}}},
{"data":{"name":"outer"},"mark":{"type":"arc","theta":0,"theta2":6.2832,"filled":false,"stroke":"#1a1a1a","strokeWidth":1.5},"encoding":{"x":{"datum":0,"type":"quantitative","scale":{"domain":[-81.08,74.32],"nice":false,"zero":false}},"y":{"datum":0,"type":"quantitative","scale":{"domain":[-68.58,68.58],"nice":false,"zero":false}},"radius":{"field":"L","type":"quantitative","stack":null,"scale":{"type":"linear","domain":[0,50],"range":[0,74],"zero":true}}}},
{"data":{"name":"ticks"},"transform":[{"calculate":"-50*sin(datum.a*PI/180)","as":"x1"},{"calculate":"50*cos(datum.a*PI/180)","as":"y1"},{"calculate":"-53*sin(datum.a*PI/180)","as":"x2"},{"calculate":"53*cos(datum.a*PI/180)","as":"y2"}],"mark":{"type":"rule","color":"#1a1a1a","strokeWidth":1.3},"encoding":{"x":{"field":"x1","type":"quantitative","scale":{"domain":[-81.08,74.32],"nice":false,"zero":false}},"y":{"field":"y1","type":"quantitative","scale":{"domain":[-68.58,68.58],"nice":false,"zero":false}},"x2":{"field":"x2"},"y2":{"field":"y2"}}},
{"data":{"name":"curves"},"transform":[{"filter":"datum.f=='8 kHz'"},{"calculate":"-datum.L*sin(datum.a*PI/180)","as":"px"},{"calculate":"datum.L*cos(datum.a*PI/180)","as":"py"}],"mark":{"type":"line","color":"#e0201c","strokeWidth":1.4,"interpolate":"catmull-rom"},"encoding":{"x":{"field":"px","type":"quantitative","scale":{"domain":[-81.08,74.32],"nice":false,"zero":false}},"y":{"field":"py","type":"quantitative","scale":{"domain":[-68.58,68.58],"nice":false,"zero":false}},"order":{"field":"a","type":"quantitative"}}},
{"data":{"name":"labels"},"transform":[{"calculate":"-64*sin(datum.a*PI/180)","as":"lx"},{"calculate":"64*cos(datum.a*PI/180)","as":"ly"}],"mark":{"type":"text","font":"DejaVu Sans","fontSize":12,"color":"#222"},"encoding":{"x":{"field":"lx","type":"quantitative","scale":{"domain":[-81.08,74.32],"nice":false,"zero":false}},"y":{"field":"ly","type":"quantitative","scale":{"domain":[-68.58,68.58],"nice":false,"zero":false}},"text":{"field":"t"}}},
{"data":{"name":"curves"},"transform":[{"filter":"datum.f=='8 kHz' && datum.a==0"}],"mark":{"type":"text","align":"left","font":"DejaVu Sans","fontSize":14,"color":"#222"},"encoding":{"x":{"datum":40.5,"type":"quantitative","scale":{"domain":[-81.08,74.32],"nice":false,"zero":false}},"y":{"datum":-64,"type":"quantitative","scale":{"domain":[-68.58,68.58],"nice":false,"zero":false}},"text":{"field":"f"}}}
]},
{"width":230,"height":203,"layer":[
{"data":{"name":"rings"},"mark":{"type":"arc","theta":0,"theta2":6.2832,"filled":false,"stroke":"#b0b0b0","strokeWidth":1},"encoding":{"x":{"datum":0,"type":"quantitative","scale":{"domain":[-81.08,74.32],"nice":false,"zero":false}},"y":{"datum":0,"type":"quantitative","scale":{"domain":[-68.58,68.58],"nice":false,"zero":false}},"radius":{"field":"L","type":"quantitative","stack":null,"scale":{"type":"linear","domain":[0,50],"range":[0,74],"zero":true}}}},
{"data":{"name":"spokes"},"transform":[{"calculate":"-50*sin(datum.a*PI/180)","as":"sx"},{"calculate":"50*cos(datum.a*PI/180)","as":"sy"},{"calculate":"50*sin(datum.a*PI/180)","as":"ex"},{"calculate":"-50*cos(datum.a*PI/180)","as":"ey"}],"mark":{"type":"rule","color":"#a8a8a8","strokeWidth":1},"encoding":{"x":{"field":"sx","type":"quantitative","scale":{"domain":[-81.08,74.32],"nice":false,"zero":false}},"y":{"field":"sy","type":"quantitative","scale":{"domain":[-68.58,68.58],"nice":false,"zero":false}},"x2":{"field":"ex"},"y2":{"field":"ey"}}},
{"data":{"name":"outer"},"mark":{"type":"arc","theta":0,"theta2":6.2832,"filled":false,"stroke":"#1a1a1a","strokeWidth":1.5},"encoding":{"x":{"datum":0,"type":"quantitative","scale":{"domain":[-81.08,74.32],"nice":false,"zero":false}},"y":{"datum":0,"type":"quantitative","scale":{"domain":[-68.58,68.58],"nice":false,"zero":false}},"radius":{"field":"L","type":"quantitative","stack":null,"scale":{"type":"linear","domain":[0,50],"range":[0,74],"zero":true}}}},
{"data":{"name":"ticks"},"transform":[{"calculate":"-50*sin(datum.a*PI/180)","as":"x1"},{"calculate":"50*cos(datum.a*PI/180)","as":"y1"},{"calculate":"-53*sin(datum.a*PI/180)","as":"x2"},{"calculate":"53*cos(datum.a*PI/180)","as":"y2"}],"mark":{"type":"rule","color":"#1a1a1a","strokeWidth":1.3},"encoding":{"x":{"field":"x1","type":"quantitative","scale":{"domain":[-81.08,74.32],"nice":false,"zero":false}},"y":{"field":"y1","type":"quantitative","scale":{"domain":[-68.58,68.58],"nice":false,"zero":false}},"x2":{"field":"x2"},"y2":{"field":"y2"}}},
{"data":{"name":"curves"},"transform":[{"filter":"datum.f=='16 kHz'"},{"calculate":"-datum.L*sin(datum.a*PI/180)","as":"px"},{"calculate":"datum.L*cos(datum.a*PI/180)","as":"py"}],"mark":{"type":"line","color":"#e0201c","strokeWidth":1.4,"interpolate":"catmull-rom"},"encoding":{"x":{"field":"px","type":"quantitative","scale":{"domain":[-81.08,74.32],"nice":false,"zero":false}},"y":{"field":"py","type":"quantitative","scale":{"domain":[-68.58,68.58],"nice":false,"zero":false}},"order":{"field":"a","type":"quantitative"}}},
{"data":{"name":"labels"},"transform":[{"calculate":"-64*sin(datum.a*PI/180)","as":"lx"},{"calculate":"64*cos(datum.a*PI/180)","as":"ly"}],"mark":{"type":"text","font":"DejaVu Sans","fontSize":12,"color":"#222"},"encoding":{"x":{"field":"lx","type":"quantitative","scale":{"domain":[-81.08,74.32],"nice":false,"zero":false}},"y":{"field":"ly","type":"quantitative","scale":{"domain":[-68.58,68.58],"nice":false,"zero":false}},"text":{"field":"t"}}},
{"data":{"name":"curves"},"transform":[{"filter":"datum.f=='16 kHz' && datum.a==0"}],"mark":{"type":"text","align":"left","font":"DejaVu Sans","fontSize":14,"color":"#222"},"encoding":{"x":{"datum":40.5,"type":"quantitative","scale":{"domain":[-81.08,74.32],"nice":false,"zero":false}},"y":{"datum":-64,"type":"quantitative","scale":{"domain":[-68.58,68.58],"nice":false,"zero":false}},"text":{"field":"f"}}}
]}
]
}
